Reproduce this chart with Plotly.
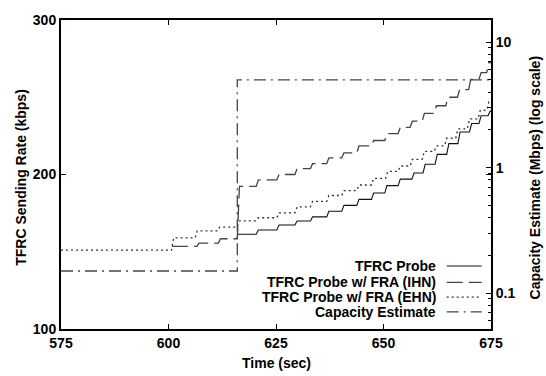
import plotly.graph_objects as go

# ---------------- data ----------------
# TFRC Probe (solid) step start times (sec) and rates (kbps)
probe_t = [616, 620.4, 625.2, 629.4, 633, 636.8, 640.3, 643.8, 647.2, 650.3,
           653.4, 656.6, 659.2, 662, 664.7, 667.3, 670, 672.2, 674.3]
probe_v = [161.3, 164.1, 167.3, 169.9, 172.6, 176.2, 180, 183.9, 188, 192.8,
           197, 201, 206.6, 213, 220, 227.5, 233, 238, 241]

# TFRC Probe w/ FRA (IHN) (long dash)
ihn_t = [600.8, 606.6, 611.6, 616, 620.4, 625.2, 629.4, 633, 636.8, 640.3,
         643.8, 647.2, 650.3, 653.4, 656.2, 659, 661.8, 664.5, 667.2, 669.8,
         672.2, 674]
ihn_v = [153.5, 155.6, 158.4, 192.3, 196.5, 200, 203.8, 207, 210.8, 214,
         218.5, 222, 226.5, 230.5, 234.5, 239.5, 244.5, 250, 255, 261.5,
         266, 272.5]

# TFRC Probe w/ FRA (EHN) (dotted)
ehn_t = [575, 600.7, 606.2, 611.4, 616, 620.4, 625.2, 629.4, 633, 636.8,
         640.3, 643.8, 647.2, 650.5, 653.4, 656.2, 659, 661.8, 664.2, 666.8,
         669.5, 672, 674]
ehn_v = [151, 159, 163.5, 166, 170, 172, 175.2, 179, 182.6, 186.4,
         189.6, 193.2, 197.5, 202, 205.5, 209.8, 215, 218.5, 223.5, 229.5,
         236, 241.5, 247]

# Capacity estimate (Mbps, log scale)
cap_t = [575, 616, 675]
cap_v = [0.15, 5.0, 5.0]

T_END = 675

x_ticks = [575, 600, 625, 650, 675]
y_ticks = [100, 200, 300]
y2_ticks = [0.1, 1, 10]
y2_minor = [0.06, 0.07, 0.08, 0.09, 0.2, 0.3, 0.4, 0.5, 0.6, 0.7, 0.8, 0.9,
            2, 3, 4, 5, 6, 7, 8, 9]

names = ["TFRC Probe", "TFRC Probe w/ FRA (IHN)",
         "TFRC Probe w/ FRA (EHN)", "Capacity Estimate"]


def staircase(times, values, end, rise=0.5):
    xs, ys = [], []
    for i, (t, v) in enumerate(zip(times, values)):
        xs.append(t if i == 0 else t + rise)
        ys.append(v)
        t_next = times[i + 1] if i + 1 < len(times) else end
        xs.append(t_next)
        ys.append(v)
    return xs, ys


FONT = "Liberation Sans, Arial, sans-serif"
styles = [
    dict(color="#111111", width=1.1, dash="solid"),
    dict(color="#444444", width=1.3, dash="16px,6px"),
    dict(color="#333333", width=1.3, dash="2px,3px"),
    dict(color="#444444", width=1.3, dash="12px,5px,2px,5px"),
]

fig = go.Figure()

ex, ey = staircase(ehn_t, ehn_v, T_END)
fig.add_trace(go.Scatter(x=ex, y=ey, mode="lines", name=names[2],
                         line=styles[2], showlegend=False))
ix, iy = staircase(ihn_t, ihn_v, T_END)
fig.add_trace(go.Scatter(x=ix, y=iy, mode="lines", name=names[1],
                         line=styles[1], showlegend=False))
px_, py_ = staircase(probe_t, probe_v, T_END)
fig.add_trace(go.Scatter(x=px_, y=py_, mode="lines", name=names[0],
                         line=styles[0], showlegend=False))
fig.add_trace(go.Scatter(x=cap_t, y=cap_v, mode="lines", name=names[3],
                         line=dict(**styles[3], shape="hv"), yaxis="y2",
                         showlegend=False))

# manual legend: text right-aligned, sample to the right (gnuplot style)
row_y = [0.2038, 0.1506, 0.1029, 0.0551]
for name, st, yy in zip(names, styles, row_y):
    fig.add_annotation(x=0.8767, y=yy, xref="paper", yref="paper",
                       text=name, showarrow=False, xanchor="right",
                       yanchor="middle",
                       font=dict(family=FONT, size=14, color="black",
                                 weight="bold"))
    fig.add_shape(type="line", xref="paper", yref="paper",
                  x0=0.897, x1=0.9784, y0=yy, y1=yy,
                  line=dict(color=st["color"], width=st["width"],
                            dash=st["dash"]))

# axis titles
title_font = dict(family=FONT, size=14, color="black", weight="bold")
fig.add_annotation(x=-0.095, y=0.49, xref="paper", yref="paper",
                   text="TFRC Sending Rate (kbps)", textangle=-90,
                   showarrow=False, xanchor="center", yanchor="middle",
                   font=title_font)
fig.add_annotation(x=1.102, y=0.49, xref="paper", yref="paper",
                   text="Capacity Estimate (Mbps) (log scale)", textangle=-90,
                   showarrow=False, xanchor="center", yanchor="middle",
                   font=title_font)
fig.add_annotation(x=0.5, y=-0.111, xref="paper", yref="paper",
                   text="Time (sec)", showarrow=False,
                   xanchor="center", yanchor="middle", font=title_font)

tickfont = dict(family=FONT, size=14, color="black", weight="bold")

fig.update_layout(
    width=546, height=376,
    margin=dict(l=61, r=55, t=15, b=47),
    paper_bgcolor="white", plot_bgcolor="white",
    font=dict(family=FONT, size=14, color="black"),
    showlegend=False,
    xaxis=dict(range=[575, 675], tickvals=x_ticks, ticks="inside",
               ticklen=5, tickwidth=1, tickcolor="black",
               showline=True, linecolor="black", linewidth=2,
               mirror="ticks", showgrid=False, zeroline=False,
               tickfont=tickfont),
    yaxis=dict(range=[100, 300], tickvals=y_ticks, ticks="inside",
               ticklen=5, tickwidth=1, tickcolor="black",
               showline=True, linecolor="black", linewidth=2,
               mirror="ticks", showgrid=False, zeroline=False,
               tickfont=tickfont),
    yaxis2=dict(type="log", range=[-1.286, 1.176], tickvals=y2_ticks,
                ticktext=["0.1", "1", "10"],
                overlaying="y", side="right", ticks="inside",
                ticklen=5, tickwidth=1, tickcolor="black",
                showline=True, linecolor="black", linewidth=2,
                showgrid=False, zeroline=False, tickfont=tickfont,
                minor=dict(tickvals=y2_minor, ticks="inside", ticklen=3,
                           tickcolor="black", showgrid=False)),
)

fig.write_html("out.html")
